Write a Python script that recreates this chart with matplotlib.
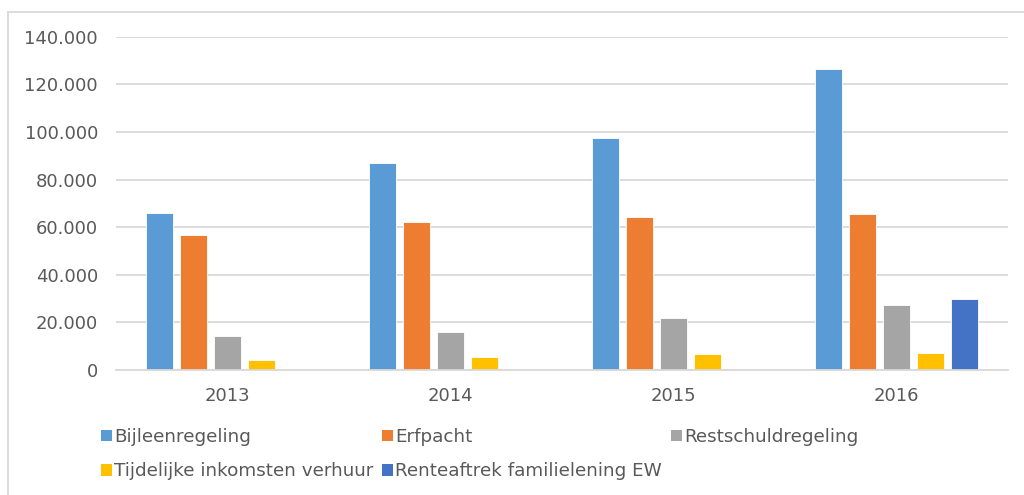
import matplotlib
matplotlib.use("Agg")
import matplotlib.pyplot as plt
from matplotlib.patches import Rectangle
import numpy as np

years = ["2013", "2014", "2015", "2016"]
series_names = ["Bijleenregeling", "Erfpacht", "Restschuldregeling",
                "Tijdelijke inkomsten verhuur", "Renteaftrek familielening EW"]
bijleenregeling = [65800, 86900, 97600, 126300]
erfpacht = [56600, 62300, 64400, 65500]
restschuldregeling = [14400, 16100, 21700, 27400]
tijdelijke_verhuur = [4300, 5500, 6600, 7000]
renteaftrek_ew = [0, 0, 0, 29800]
colors = ["#5B9BD5", "#ED7D31", "#A5A5A5", "#FFC000", "#4472C4"]
yticks = [0, 20000, 40000, 60000, 80000, 100000, 120000, 140000]
ytick_labels = ["0", "20.000", "40.000", "60.000", "80.000", "100.000", "120.000", "140.000"]

all_series = [bijleenregeling, erfpacht, restschuldregeling, tijdelijke_verhuur, renteaftrek_ew]

W, H = 1024, 495
fig = plt.figure(figsize=(W / 100, H / 100), dpi=100)
ax = fig.add_axes([116 / W, 1 - 370 / H, (1008 - 116) / W, (370 - 36.7) / H])

txt = "#595959"
grid = "#D9D9D9"
slot = 0.1526
bw = 0.121
x = np.arange(len(years))
handles = []
for i, (name, vals, c) in enumerate(zip(series_names, all_series, colors)):
    vals = np.array(vals, dtype=float)
    mask = vals > 0
    pos = x + (i - 2) * slot
    ax.bar(pos[mask], vals[mask], width=bw, color=c, edgecolor="white",
           linewidth=0.6, zorder=3)
    handles.append(Rectangle((0, 0), 1, 1, facecolor=c, edgecolor="none", label=name))

ax.set_xlim(-0.5, 3.5)
ax.set_ylim(0, 140000)
ax.set_yticks(yticks)
ax.set_yticklabels(ytick_labels)
ax.set_xticks(x)
ax.set_xticklabels(years)
ax.tick_params(axis="both", length=0, colors=txt, labelsize=13)
ax.tick_params(axis="y", pad=13)
ax.tick_params(axis="x", pad=12)
ax.yaxis.grid(True, color=grid, linewidth=1.3, zorder=0)
ax.set_axisbelow(True)
for s in ["top", "right", "left"]:
    ax.spines[s].set_visible(False)
ax.spines["bottom"].set_color(grid)
ax.spines["bottom"].set_linewidth(1.3)
ax.spines["bottom"].set_zorder(4)

# outer chart border
fig.add_artist(plt.Line2D([8 / W, 8 / W], [0, 1 - 12 / H], transform=fig.transFigure,
                          color=grid, linewidth=1.3))
fig.add_artist(plt.Line2D([8 / W, 1], [1 - 12 / H, 1 - 12 / H], transform=fig.transFigure,
                          color=grid, linewidth=1.3))

order = [0, 3, 1, 4, 2]
leg = fig.legend([handles[k] for k in order], [series_names[k] for k in order],
                 ncol=3, loc="upper left", bbox_to_anchor=(101 / W, 1 - 428 / H),
                 frameon=False, fontsize=13.2, handlelength=0.6, handleheight=0.6,
                 handletextpad=0.1, columnspacing=0.5, labelspacing=0.9,
                 borderpad=0, borderaxespad=0)
for t in leg.get_texts():
    t.set_color(txt)

fig.savefig("out.png", dpi=100, facecolor="white")
